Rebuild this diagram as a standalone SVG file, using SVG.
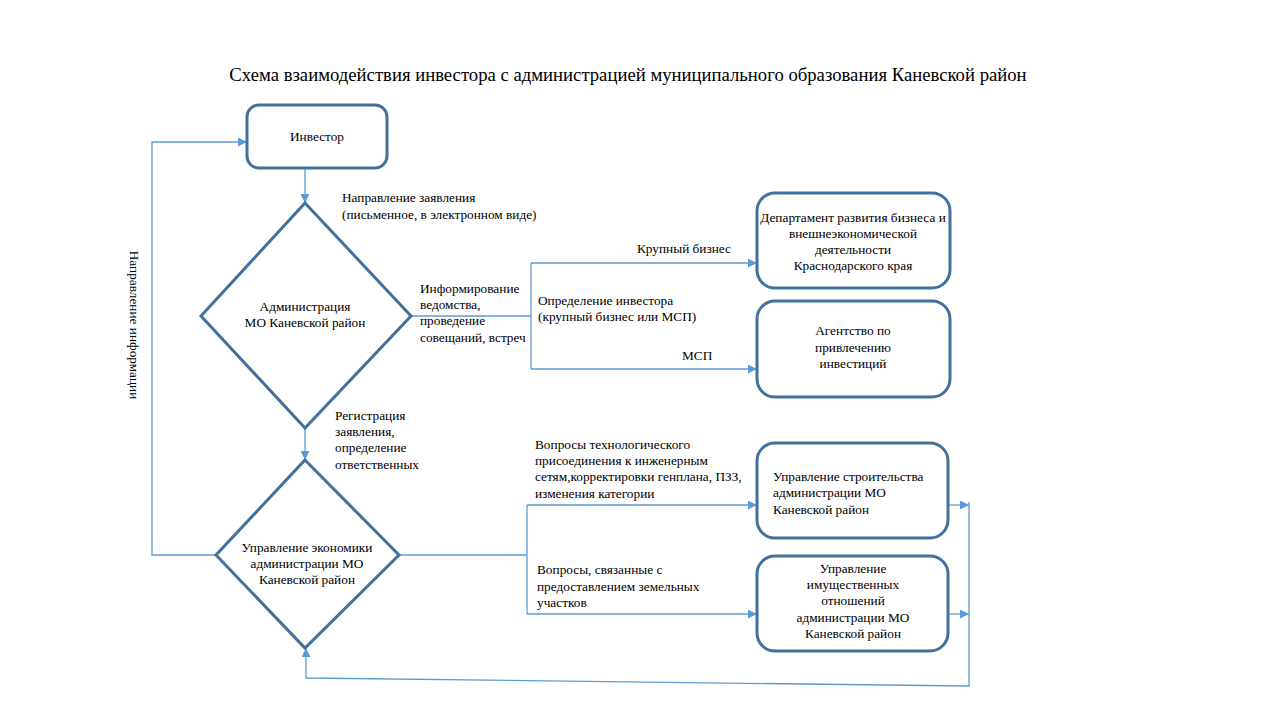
<svg xmlns="http://www.w3.org/2000/svg" width="1280" height="720" viewBox="0 0 1280 720">
<defs>
<marker id="ah" viewBox="0 0 10 10" refX="10" refY="5" markerWidth="9" markerHeight="9" markerUnits="userSpaceOnUse" orient="auto">
<path d="M0,0 L10,5 L0,10 z" fill="#5B9BD5"/>
</marker>
<style>
text{font-family:"Liberation Serif","Times New Roman",serif;font-size:13.3px;fill:#000}
.t{font-size:18.7px}
.c{text-anchor:middle}
.box{fill:#fff;stroke:#41719C;stroke-width:3}
.conn{fill:none;stroke:#5B9BD5;stroke-width:1.3}
</style>
</defs>
<rect width="1280" height="720" fill="#fff"/>
<text class="t c" x="628" y="81">Схема взаимодействия инвестора с администрацией муниципального образования Каневской район</text>

<g id="connectors">
<path class="conn" d="M305,168 V203" marker-end="url(#ah)"/>
<path class="conn" d="M411,316 H531"/>
<path class="conn" d="M531,263 V369"/>
<path class="conn" d="M531,263 H757" marker-end="url(#ah)"/>
<path class="conn" d="M531,369 H757" marker-end="url(#ah)"/>
<path class="conn" d="M305,428 V460" marker-end="url(#ah)"/>
<path class="conn" d="M399,555 H527"/>
<path class="conn" d="M527,505 V614"/>
<path class="conn" d="M527,505 H757" marker-end="url(#ah)"/>
<path class="conn" d="M527,614 H757" marker-end="url(#ah)"/>
<path class="conn" d="M948,505 H969" marker-end="url(#ah)"/>
<path class="conn" d="M948,614 H969" marker-end="url(#ah)"/>
<path class="conn" d="M969,502 V686 L306,678 V648" marker-end="url(#ah)"/>
<path class="conn" d="M216,555 H152 V142 H247" marker-end="url(#ah)"/>
</g>

<g id="labels">
<text x="342" y="202">Направление заявления</text>
<text x="342" y="219">(письменное, в электронном виде)</text>
<text x="420" y="293">Информирование</text>
<text x="420" y="309">ведомства,</text>
<text x="420" y="325">проведение</text>
<text x="420" y="342">совещаний, встреч</text>
<text x="637" y="253">Крупный бизнес</text>
<text x="538" y="305">Определение инвестора</text>
<text x="538" y="321">(крупный бизнес или МСП)</text>
<text x="682" y="360">МСП</text>
<text x="335" y="420">Регистрация</text>
<text x="335" y="436">заявления,</text>
<text x="335" y="452">определение</text>
<text x="335" y="469">ответственных</text>
<text x="535" y="449">Вопросы технологического</text>
<text x="535" y="465">присоединения к инженерным</text>
<text x="535" y="481">сетям,корректировки генплана, ПЗЗ,</text>
<text x="535" y="498">изменения категории</text>
<text x="537" y="574">Вопросы, связанные с</text>
<text x="537" y="591">предоставлением земельных</text>
<text x="537" y="607">участков</text>
<text class="c" transform="translate(130,325) rotate(90)">Направление информации</text>
</g>

<g id="investor">
<rect class="box" x="247" y="105" width="140" height="63" rx="12"/>
<text class="c" x="317" y="141">Инвестор</text>
</g>

<g id="admin">
<polygon class="box" points="305,203 411,316 305,428 201,316"/>
<text class="c" x="305" y="311">Администрация</text>
<text class="c" x="305" y="327">МО Каневской район</text>
</g>

<g id="dept">
<rect class="box" x="757" y="193" width="193" height="95" rx="18"/>
<text class="c" x="853" y="222">Департамент развития бизнеса и</text>
<text class="c" x="853" y="238">внешнеэкономической</text>
<text class="c" x="853" y="254">деятельности</text>
<text class="c" x="853" y="270">Краснодарского края</text>
</g>

<g id="agency">
<rect class="box" x="757" y="301" width="193" height="96" rx="18"/>
<text class="c" x="853" y="335">Агентство по</text>
<text class="c" x="853" y="352">привлечению</text>
<text class="c" x="853" y="368">инвестиций</text>
</g>

<g id="econ">
<polygon class="box" points="305,460 399,555 305,648 216,555"/>
<text class="c" x="307" y="552">Управление экономики</text>
<text class="c" x="307" y="568">администрации МО</text>
<text class="c" x="307" y="584">Каневской район</text>
</g>

<g id="construction">
<rect class="box" x="757" y="443" width="191" height="95" rx="18"/>
<text x="773" y="481">Управление строительства</text>
<text x="773" y="497">администрации МО</text>
<text x="773" y="514">Каневской район</text>
</g>

<g id="property">
<rect class="box" x="757" y="556" width="191" height="95" rx="18"/>
<text class="c" x="853" y="573">Управление</text>
<text class="c" x="853" y="589">имущественных</text>
<text class="c" x="853" y="605">отношений</text>
<text class="c" x="853" y="622">администрации МО</text>
<text class="c" x="853" y="638">Каневской район</text>
</g>
</svg>
